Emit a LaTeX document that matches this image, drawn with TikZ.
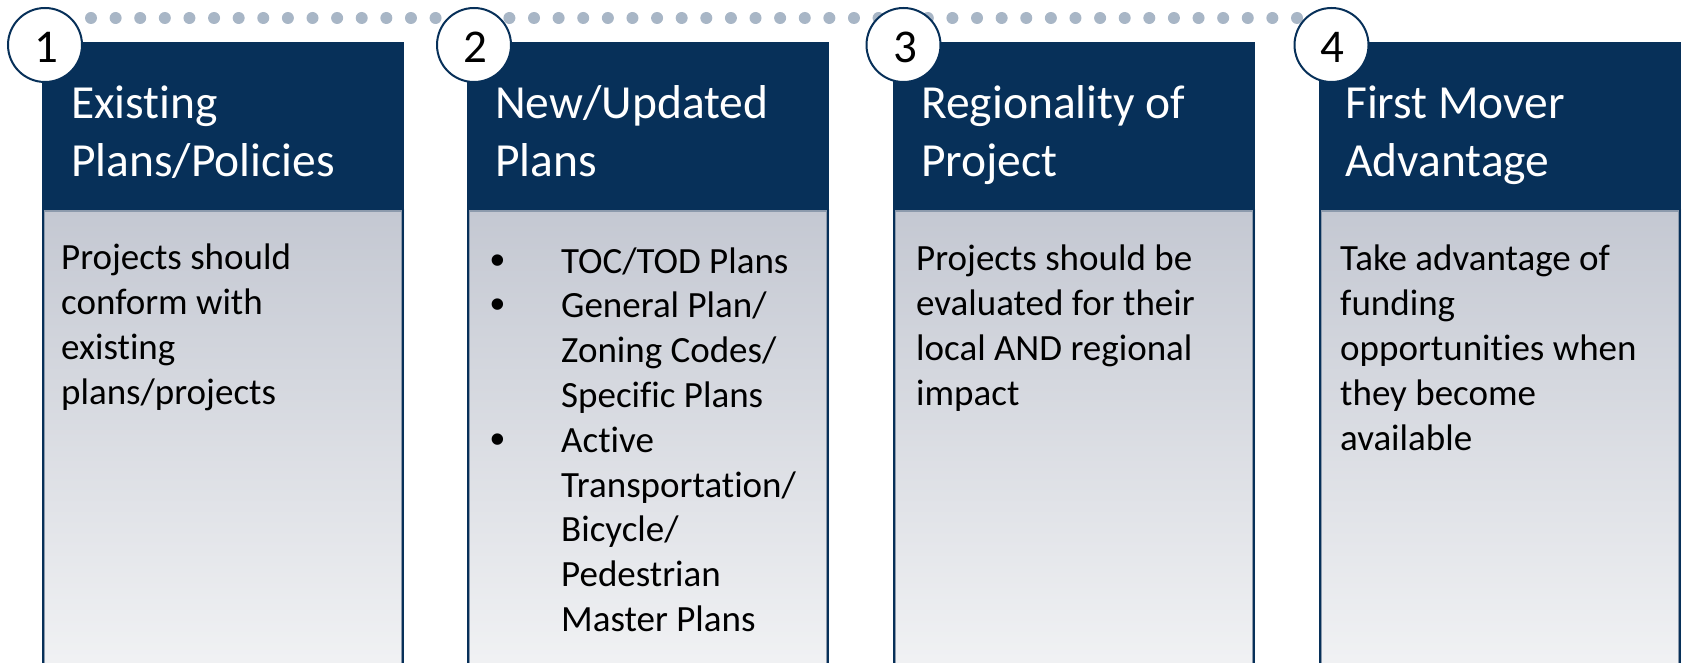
\documentclass[tikz,border=0pt]{standalone}
\usepackage{fontspec}
\setmainfont{Carlito}[Ligatures=NoCommon]
\newfontfamily\bulletfont{Liberation Sans}
\definecolor{navy}{RGB}{7,48,89}
\definecolor{dotgray}{RGB}{168,182,198}
\definecolor{bodytop}{RGB}{196,200,210}
\definecolor{bodybot}{RGB}{241,242,244}
\definecolor{innerline}{RGB}{140,154,172}
% lines stacked with the first line's baseline as the reference point
\newcommand{\stackedlines}[1]{\begin{tabular}[t]{@{}l@{}}#1\end{tabular}}
\tikzset{
  headerbox/.style={fill=navy},
  bodybox/.style={top color=bodytop, bottom color=bodybot},
  numcircle/.style={circle, draw=navy, line width=2pt, fill=white, minimum size=74pt, inner sep=0pt},
  numtext/.style={anchor=base, font=\fontsize{47}{55}\selectfont, text=black, inner sep=0pt},
  titletext/.style={anchor=base west, inner sep=0pt, text=white, font=\fontsize{47.5}{58}\selectfont},
  bodytext/.style={anchor=base west, inner sep=0pt, text=black, font=\fontsize{37}{45}\selectfont},
  bullettext/.style={anchor=base west, inner sep=0pt, text=black, font=\fontsize{37}{44.8}\selectfont},
  bulletmark/.style={anchor=base, inner sep=0pt, text=black, font=\bulletfont\fontsize{42}{44.8}\selectfont},
  dotline/.style={dotgray, line width=12pt, line cap=round, dash pattern=on 0pt off 24.612pt},
}
\begin{document}
\begin{tikzpicture}[x=1pt,y=-1pt]
\useasboundingbox (0,0) rectangle (1683,663);
\clip (0,0) rectangle (1683,663);

% column panels: navy header above a shaded body
\foreach \L in {42,467,893,1319}{
  \path[bodybox] (\L,210) rectangle ({\L+362},670);
  \draw[innerline, line width=1pt] ({\L+2.5},211) -- ({\L+2.5},670);
  \draw[innerline, line width=1pt] ({\L+359.5},211) -- ({\L+359.5},670);
  \draw[innerline, line width=1.5pt] (\L,211) -- ({\L+362},211);
  \draw[navy, line width=2pt] ({\L+1},210) -- ({\L+1},670);
  \draw[navy, line width=2pt] ({\L+361},210) -- ({\L+361},670);
  \path[headerbox] (\L,42) rectangle ({\L+362},210);
}

% dotted timeline behind the numbered circles
\coordinate (dotstart) at (91,18);
\coordinate (dotend) at (1297,18);
\draw[dotline] (dotstart) -- (dotend);

% numbered circles
\node[numcircle] (c1) at (45,45) {};
\node[numcircle] (c2) at (474,45) {};
\node[numcircle] (c3) at (903.5,45) {};
\node[numcircle] (c4) at (1331.5,45) {};
\node[numtext] (n1) at (46,63) {1};
\node[numtext] (n2) at (475,63) {2};
\node[numtext] (n3) at (905,63) {3};
\node[numtext] (n4) at (1332,63) {4};

% header titles
\node[titletext] (t1) at (71,119) {\stackedlines{Existing\\Plans/Policies}};
\node[titletext] (t2) at (495,119) {\stackedlines{New/Updated\\Plans}};
\node[titletext] (t3) at (921,119) {\stackedlines{Regionality of\\Project}};
\node[titletext] (t4) at (1345,119) {\stackedlines{First Mover\\Advantage}};

% body texts
\node[bodytext] (p1) at (61,269) {\stackedlines{Projects should\\conform with\\existing\\plans/projects}};
\node[bodytext] (p3) at (916,270) {\stackedlines{Projects should be\\evaluated for their\\local AND regional\\impact}};
\node[bodytext] (p4) at (1340,270) {\stackedlines{Take advantage of\\funding\\opportunities when\\they become\\available}};

% bullet list of the second column
\node[bulletmark] (m1) at (498,274) {•};
\node[bullettext] (i1) at (561,273) {TOC/TOD Plans};
\node[bulletmark] (m2) at (498,318.8) {•};
\node[bullettext] (i2) at (561,317.8) {\stackedlines{General Plan/\\Zoning Codes/\\Specific Plans}};
\node[bulletmark] (m3) at (498,453.2) {•};
\node[bullettext] (i3) at (561,452.2) {\stackedlines{Active\\Transportation/\\Bicycle/\\Pedestrian\\Master Plans}};
\end{tikzpicture}
\end{document}
